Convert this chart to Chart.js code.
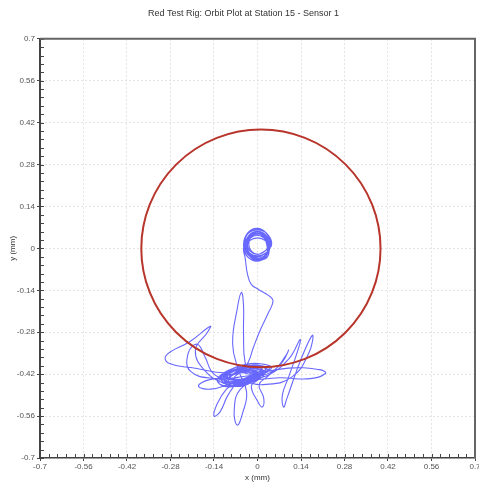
<!DOCTYPE html>
<html>
<head>
<meta charset="utf-8">
<script src="https://cdn.jsdelivr.net/npm/chart.js@4.4.0/dist/chart.umd.min.js"></script>
<style>
  html, body { margin: 0; padding: 0; background: #fff; }
  #wrap { width: 479px; height: 489px; }
</style>
</head>
<body>
<div id="wrap"><canvas id="orbit"></canvas></div>
<script>
// Axis ticks (same for x and y)
var tickValues = [-0.7, -0.56, -0.42, -0.28, -0.14, 0, 0.14, 0.28, 0.42, 0.56, 0.7];
var tickLabels = ['-0.7', '-0.56', '-0.42', '-0.28', '-0.14', '0', '0.14', '0.28', '0.42', '0.56', '0.7'];
var minorStep = 0.028;

// Alarm circle (centre and radius in mm, x / y)
var circleCentre = [0.011, 0];
var circleRadius = [0.385, 0.397];

// Orbit trace, mm
var orbitX = [
  // loops round the centre
  0.032, 0.023, 0.002, -0.019, -0.028, -0.019, 0.002, 0.023,
  0.038, 0.027, 0, -0.027, -0.038, -0.027, 0, 0.027,
  0.041, 0.028, -0.002, -0.032, -0.045, -0.032, -0.002, 0.028,
  0.035, 0.025, 0, -0.025, -0.035, -0.025, 0, 0.025,
  0.043, 0.031, 0.003, -0.025, -0.037, -0.025, 0.003, 0.031,
  0.04, 0.029, 0.001, -0.027, -0.039, -0.027, 0.001, 0.029,
  0.03, 0.021, -0.001, -0.023, -0.032, -0.023, -0.001, 0.021,
  0.045, 0.032, 0.0, -0.032, -0.045, -0.032, 0.0, 0.032,
  0.036, 0.026, 0.0, -0.026, -0.036, -0.026, 0.0, 0.026,
  0.042, 0.03, 0.0, -0.03, -0.042, -0.03, 0.0, 0.03,
  0.033, 0.024, 0.0, -0.024, -0.033, -0.024, 0.0, 0.024,
  0.035, 0.023, -0.005, -0.033, -0.045, -0.04,
  // tail down
  -0.032, -0.02, 0.003, 0.035, 0.050, 0.035, 0.01, -0.013, -0.03,
  // bottom cluster and excursions
  -0.055, -0.1, -0.113, -0.08, -0.035, 0.01, 0.026, -0.006, -0.055,
  -0.1, -0.2, -0.287, -0.294, -0.216, -0.152, -0.161, -0.2, -0.168, -0.103,
  -0.06, -0.01, 0.02, 0.0, -0.05, -0.095, -0.105, -0.07,
  -0.1, -0.13, -0.14, -0.12, -0.095, -0.06,
  0.0, 0.1, 0.2, 0.219, 0.17, 0.07, -0.03,
  -0.09, -0.1, -0.06, -0.01, 0.02, 0.015, -0.03,
  0.025, 0.0, -0.045, -0.09, -0.115, -0.09, -0.045, 0.0,
  0.01, -0.01, -0.045, -0.075, -0.09, -0.07, -0.045, -0.01,
  0.045, 0.01, -0.045, -0.1, -0.13, -0.1, -0.045, 0.01,
  -0.055, -0.075, -0.065, -0.048, -0.035,
  -0.06, -0.08, -0.065, -0.052, -0.045, -0.045, -0.04,
  -0.02, 0.015, 0.0, -0.06, -0.11, -0.1, -0.05,
  0.03, 0.1, 0.137, 0.13, 0.1, 0.08, 0.084, 0.095, 0.14, 0.177, 0.165, 0.11, 0.02,
  -0.04, -0.095, -0.08, -0.03, 0.01,
  -0.06, -0.135, -0.216, -0.223, -0.194, -0.17, -0.14,
  -0.08, -0.03, 0.01, -0.01, -0.06,
  0.02, -0.005, -0.05, -0.085, -0.1, -0.075, -0.035, 0.005,
  0.0, -0.02, -0.05, -0.07, -0.075, -0.055, -0.03, -0.005,
  0.035, 0.005, -0.04, -0.095, -0.12, -0.095, -0.05, 0.0,
  -0.02, 0.0, 0.015, 0.02, 0.005,
  0.03, 0.08, 0.1, 0.09, 0.05,
  -0.01, -0.07, -0.09, -0.05, -0.02,
  0.03, 0.005, -0.045, -0.095, -0.125, -0.1, -0.05, 0.005,
  0.015, -0.01, -0.05, -0.08, -0.095, -0.075, -0.04, -0.005,
  0.04, 0.01, -0.04, -0.09, -0.11, -0.09, -0.04, 0.01,
  -0.08, -0.15, -0.19, -0.16, -0.09
];
var orbitY = [
  0.015, 0.040, 0.050, 0.040, 0.015, -0.010, -0.020, -0.010,
  0.012, 0.044, 0.057, 0.044, 0.012, -0.020, -0.033, -0.020,
  0.012, 0.051, 0.067, 0.051, 0.012, -0.027, -0.043, -0.027,
  0.005, 0.026, 0.035, 0.026, 0.005, -0.016, -0.025, -0.016,
  0.008, 0.036, 0.048, 0.036, 0.008, -0.020, -0.032, -0.020,
  0.01, 0.042, 0.056, 0.042, 0.01, -0.022, -0.036, -0.022,
  0.012, 0.034, 0.044, 0.034, 0.012, -0.01, -0.02, -0.01,
  0.01, 0.048, 0.062, 0.048, 0.01, -0.028, -0.04, -0.028,
  0.006, 0.04, 0.052, 0.04, 0.006, -0.026, -0.038, -0.026,
  0.014, 0.05, 0.064, 0.05, 0.014, -0.022, -0.036, -0.022,
  0.01, 0.038, 0.048, 0.038, 0.01, -0.018, -0.028, -0.018,
  0.0, 0.035, 0.05, 0.035, 0.0, -0.03,
  -0.087, -0.12, -0.137, -0.157, -0.175, -0.215, -0.27, -0.33, -0.38,
  -0.415, -0.425, -0.443, -0.457, -0.45, -0.427, -0.403, -0.39, -0.397,
  -0.415, -0.4, -0.383, -0.357, -0.31, -0.26, -0.28, -0.34, -0.41, -0.453,
  -0.46, -0.44, -0.415, -0.395, -0.4, -0.42, -0.44, -0.45,
  -0.47, -0.52, -0.56, -0.545, -0.49, -0.445,
  -0.42, -0.4, -0.405, -0.417, -0.435, -0.432, -0.44,
  -0.435, -0.42, -0.403, -0.4, -0.41, -0.43, -0.445,
  -0.405, -0.395, -0.398, -0.418, -0.44, -0.45, -0.447, -0.43,
  -0.41, -0.403, -0.408, -0.42, -0.435, -0.44, -0.438, -0.425,
  -0.4, -0.385, -0.39, -0.41, -0.44, -0.46, -0.455, -0.435,
  -0.47, -0.54, -0.59, -0.55, -0.48,
  -0.41, -0.32, -0.2, -0.147, -0.19, -0.28, -0.38,
  -0.42, -0.42, -0.4, -0.405, -0.43, -0.445, -0.44,
  -0.425, -0.37, -0.305, -0.34, -0.43, -0.49, -0.53, -0.5, -0.37, -0.29, -0.35, -0.43, -0.455,
  -0.445, -0.43, -0.41, -0.405, -0.415,
  -0.43, -0.435, -0.41, -0.35, -0.32, -0.36, -0.42,
  -0.44, -0.44, -0.425, -0.41, -0.41,
  -0.415, -0.4, -0.402, -0.425, -0.445, -0.452, -0.445, -0.43,
  -0.418, -0.41, -0.413, -0.425, -0.435, -0.437, -0.432, -0.425,
  -0.41, -0.392, -0.395, -0.413, -0.432, -0.455, -0.46, -0.44,
  -0.46, -0.51, -0.53, -0.5, -0.455,
  -0.43, -0.38, -0.34, -0.36, -0.41,
  -0.43, -0.44, -0.425, -0.415, -0.42,
  -0.402, -0.39, -0.395, -0.415, -0.445, -0.462, -0.455, -0.43,
  -0.412, -0.4, -0.405, -0.42, -0.44, -0.448, -0.442, -0.428,
  -0.398, -0.385, -0.388, -0.408, -0.435, -0.45, -0.45, -0.425,
  -0.45, -0.47, -0.46, -0.44, -0.43
];

var orbitPoints = [];
for (var i = 0; i < orbitX.length; i++) {
    orbitPoints.push({ x: orbitX[i], y: orbitY[i] });
}

function setTicks(scale) {
    scale.ticks = tickValues.map(function (v) { return { value: v }; });
}
function tickText(value) {
    var i = tickValues.indexOf(value);
    return i >= 0 ? tickLabels[i] : '';
}

// alarm circle, minor ticks and top/right frame
var decorations = {
    id: 'decorations',
    afterDatasetsDraw: function (chart) {
        var ctx = chart.ctx, xs = chart.scales.x, ys = chart.scales.y;
        var cx = xs.getPixelForValue(circleCentre[0]);
        var cy = ys.getPixelForValue(circleCentre[1]);
        var rx = Math.abs(xs.getPixelForValue(circleCentre[0] + circleRadius[0]) - cx);
        var ry = Math.abs(ys.getPixelForValue(circleCentre[1] + circleRadius[1]) - cy);
        ctx.save();
        ctx.beginPath();
        ctx.ellipse(cx, cy, rx, ry, 0, 0, Math.PI * 2);
        ctx.strokeStyle = '#b8352b';
        ctx.lineWidth = 2;
        ctx.stroke();
        ctx.restore();
    },
    afterDraw: function (chart) {
        var ctx = chart.ctx, a = chart.chartArea, xs = chart.scales.x, ys = chart.scales.y;
        ctx.save();
        ctx.strokeStyle = '#444';
        ctx.lineWidth = 1;
        ctx.beginPath();
        for (var v = -0.7; v <= 0.7001; v += minorStep) {
            var px = Math.round(xs.getPixelForValue(v)) + 0.5;
            ctx.moveTo(px, a.bottom);
            ctx.lineTo(px, a.bottom - 4);
            var py = Math.round(ys.getPixelForValue(v)) + 0.5;
            ctx.moveTo(a.left, py);
            ctx.lineTo(a.left + 4, py);
        }
        ctx.stroke();
        ctx.strokeStyle = '#666';
        ctx.lineWidth = 2;
        ctx.beginPath();
        ctx.moveTo(a.left, a.top);
        ctx.lineTo(a.right, a.top);
        ctx.lineTo(a.right, a.bottom);
        ctx.stroke();
        ctx.restore();
    }
};

var axisFont = { family: 'Liberation Sans, Arial, sans-serif', size: 8 };
var ctx = document.getElementById('orbit').getContext('2d');
new Chart(ctx, {
    type: 'scatter',
    data: {
        datasets: [{
            label: 'Orbit',
            data: orbitPoints,
            showLine: true,
            tension: 0.45,
            borderColor: 'rgba(40, 40, 255, 0.7)',
            borderWidth: 1.1,
            pointRadius: 0,
            fill: false
        }]
    },
    options: {
        responsive: true,
        maintainAspectRatio: false,
        animation: false,
        layout: { padding: { top: 0, right: 0, left: 8, bottom: 6 } },
        plugins: {
            legend: { display: false },
            tooltip: { enabled: false },
            title: {
                display: true,
                text: 'Red Test Rig: Orbit Plot at Station 15 - Sensor 1',
                color: '#333',
                font: { family: 'Liberation Sans, Arial, sans-serif', size: 9, weight: 'normal' },
                padding: { top: 8, bottom: 20 }
            }
        },
        scales: {
            x: {
                type: 'linear',
                min: -0.7,
                max: 0.7,
                afterBuildTicks: setTicks,
                afterFit: function (scale) { scale.height = 25; scale.paddingRight = 4; },
                ticks: {
                    callback: tickText,
                    color: '#555',
                    font: axisFont,
                    padding: 1,
                    maxRotation: 0,
                    autoSkip: false
                },
                grid: { color: '#e4e4e4', tickColor: '#444', tickLength: 3 },
                border: { color: '#444', width: 1.5, dash: [2, 2] },
                title: { display: true, text: 'x (mm)', color: '#333', font: axisFont, padding: { top: 4, bottom: 0 } }
            },
            y: {
                type: 'linear',
                min: -0.7,
                max: 0.7,
                afterBuildTicks: setTicks,
                afterFit: function (scale) { scale.width = 32; },
                ticks: {
                    callback: tickText,
                    color: '#555',
                    font: axisFont,
                    padding: 2,
                    autoSkip: false
                },
                grid: { color: '#e4e4e4', tickColor: '#444', tickLength: 3 },
                border: { color: '#444', width: 2, dash: [2, 2] },
                title: { display: true, text: 'y (mm)', color: '#333', font: axisFont, padding: { top: 0, bottom: 4 } }
            }
        }
    },
    plugins: [decorations]
});
</script>
</body>
</html>
